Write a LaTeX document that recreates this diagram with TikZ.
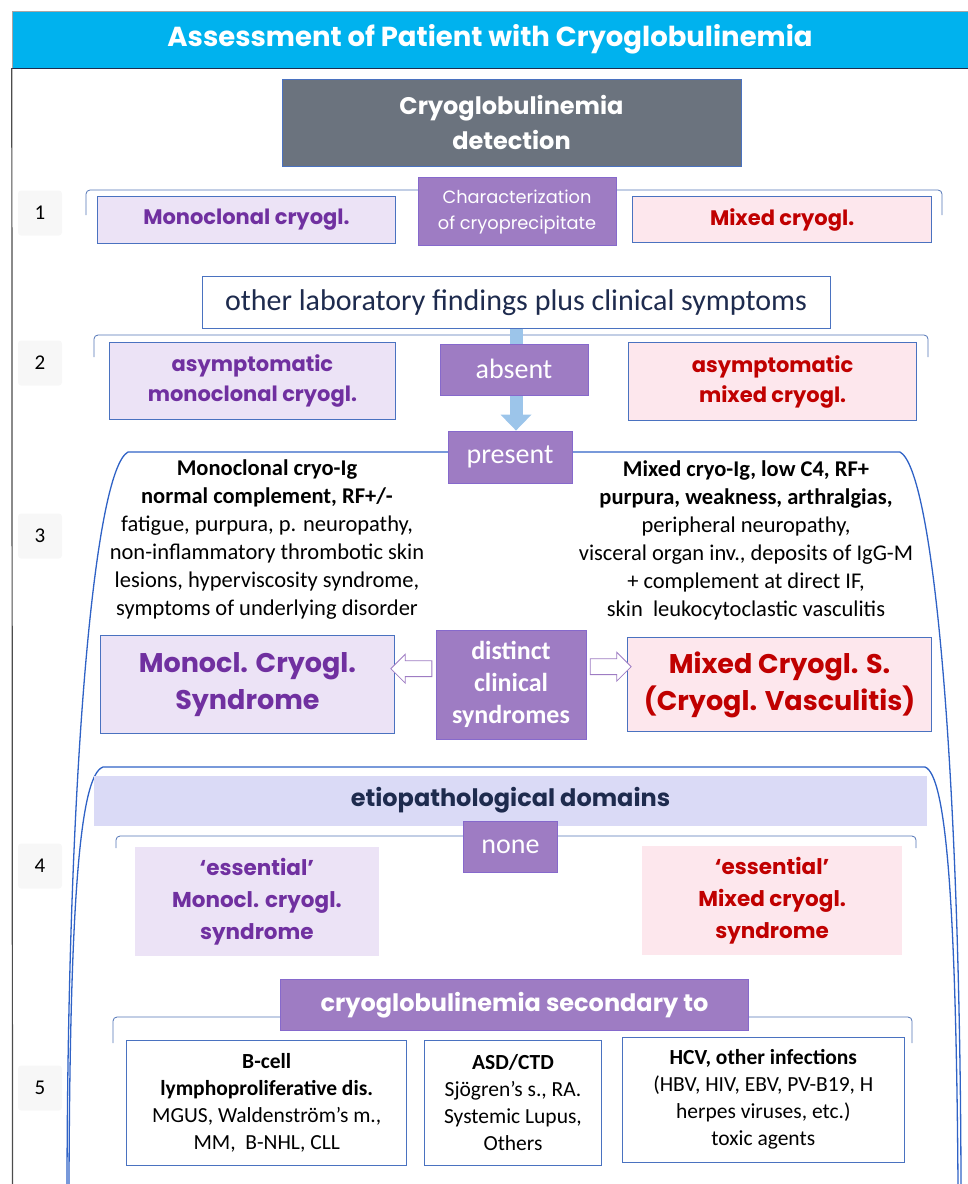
\documentclass[tikz,border=0pt]{standalone}
\usepackage{fontspec}
\setmainfont{Carlito}
\newfontfamily\geofont{Poppins}
\usepackage{tikz}
\usetikzlibrary{positioning, shapes.arrows, arrows.meta, calc}

\definecolor{cyanbar}{HTML}{00B2EE}
\definecolor{slatebox}{HTML}{6B737E}
\definecolor{lilac}{HTML}{9E7CC3}
\definecolor{lavender}{HTML}{ECE3F6}
\definecolor{blush}{HTML}{FDE7ED}
\definecolor{monotext}{HTML}{7030A0}
\definecolor{mixtext}{HTML}{C00000}
\definecolor{edgeblue}{HTML}{4A72C0}
\definecolor{frameblue}{HTML}{2F62C6}
\definecolor{skyarrow}{HTML}{9CC5EA}
\definecolor{navytext}{HTML}{1E2B4E}
\definecolor{periwinkle}{HTML}{DADAF6}

\newcommand{\setfs}[2]{\fontsize{#1}{#2}\selectfont}

\begin{document}
\begin{tikzpicture}[
    x=1pt, y=-1pt,
    box/.style={rectangle, draw=edgeblue, line width=0.8pt, align=center, inner sep=2pt},
    monobox/.style={box, fill=lavender, text=monotext, font=\geofont\bfseries\setfs{21}{30}},
    mixbox/.style={box, fill=blush, text=mixtext, font=\geofont\bfseries\setfs{21}{30}},
    purplebox/.style={rectangle, fill=lilac, draw=lilac!85!blue, text=white, align=center, inner sep=2pt},
    whitebox/.style={box, fill=white, text=black, font=\setfs{21.5}{27}},
    symptoms/.style={align=center, text=black, font=\setfs{22.5}{28}},
    numbox/.style={rectangle, rounded corners=3pt, fill=black!3, minimum width=44pt, minimum height=45pt, font=\setfs{21}{24}},
    bracket/.style={draw=edgeblue!85!gray, line width=0.8pt, rounded corners=4pt},
    frame/.style={draw=frameblue, line width=1.3pt},
    hollow/.style={single arrow, draw=lilac, fill=white, line width=0.8pt, inner sep=0pt, text height=15pt, minimum height=41pt, single arrow head extend=6.5pt}
]
\useasboundingbox (0,0) rectangle (968,1184);

% brackets and frames behind the boxes
\draw[bracket] (86,215) |- (942,190) -- (942,215);
\draw[bracket] (94,357) |- (928,335) -- (928,357);
\draw[bracket] (116,848) |- (916,836) -- (916,848);
\draw[bracket] (113,1043) |- (912,1017) -- (912,1043);
\draw[frame] (67,1184) .. controls (68,760) and (95,470) .. (128,452) -- (900,452) .. controls (933,470) and (960,760) .. (961,1184);
\draw[frame] (69,1184) .. controls (70,900) and (80,775) .. (103,767) -- (925,767) .. controls (946,775) and (956,900) .. (958,1184);

% title bar and outer border
\node[rectangle, fill=cyanbar, draw=gray!70, minimum width=956pt, minimum height=57pt, text=white, font=\geofont\bfseries\setfs{27.5}{30}] (title) at (490,39.5) {Assessment of Patient with Cryoglobulinemia};
\draw[navytext, line width=1.2pt] (title.south west) -- (title.south east);
\draw[black!70, line width=1.2pt] (title.south west) -- (12.5,1184);

\foreach \n/\y in {1/213,2/363,3/536,4/866,5/1088}
    \node[numbox] (num\n) at (40,\y) {\n};

% level 1
\node[box, fill=slatebox, text=white, minimum width=459pt, minimum height=87pt, font=\geofont\bfseries\setfs{24}{35}] (detect) at (511.5,122.5) {Cryoglobulinemia\\detection};
\node[purplebox, below=11pt of detect, xshift=5.5pt, minimum width=198pt, minimum height=68pt, font=\geofont\setfs{17.8}{26}] (charact) {Characterization\\of cryoprecipitate};
\node[monobox, left=22pt of charact, yshift=-8.5pt, minimum width=298pt, minimum height=47pt] (mono1) {Monoclonal cryogl.};
\node[mixbox, right=16pt of charact, yshift=-8pt, minimum width=299pt, minimum height=46pt] (mixed1) {Mixed cryogl.};

% level 2
\node[box, fill=white, text=navytext, below=30pt of charact, xshift=-1pt, minimum width=628pt, minimum height=52pt, font=\setfs{30}{34}] (lab) {other laboratory findings plus clinical symptoms};
\node[purplebox, below=102pt of lab, xshift=-6pt, minimum width=124pt, minimum height=52pt, font=\setfs{28}{32}] (present) {present};
\draw[skyarrow, line width=13pt, -{Triangle[length=16pt, width=30pt]}] (lab.south) -- (lab.south |- present.north);
\node[purplebox, below=15pt of lab, xshift=-2pt, minimum width=148pt, minimum height=51pt, font=\setfs{28}{32}] (absent) {absent};
\node[monobox, left=44pt of absent, yshift=-12pt, minimum width=286pt, minimum height=77pt] (mono2) {asymptomatic\\monoclonal cryogl.};
\node[mixbox, right=40pt of absent, yshift=-12.5pt, minimum width=288pt, minimum height=78pt] (mixed2) {asymptomatic\\mixed cryogl.};

% level 3
\node[symptoms] (monosym) at (267,540) {\textbf{Monoclonal cryo-Ig}\\\textbf{normal complement, RF+/-}\\fatigue, purpura, p. neuropathy,\\non-inflammatory thrombotic skin\\lesions, hyperviscosity syndrome,\\symptoms of underlying disorder};
\node[symptoms] (mixsym) at (746,540) {\textbf{Mixed cryo-Ig, low C4, RF+}\\\textbf{purpura, weakness, arthralgias,}\\peripheral neuropathy,\\visceral organ inv., deposits of IgG-M\\+ complement at direct IF,\\skin\ \ leukocytoclastic vasculitis};
\node[purplebox, below=147pt of present, xshift=1pt, minimum width=150pt, minimum height=109pt, font=\bfseries\setfs{26}{32}] (distinct) {distinct\\clinical\\syndromes};
\node[monobox, left=41pt of distinct, minimum width=294pt, minimum height=98pt, font=\geofont\bfseries\setfs{27}{37}] (monoS) {Monocl. Cryogl.\\Syndrome};
\node[mixbox, right=41pt of distinct, minimum width=304pt, minimum height=94pt, font=\geofont\bfseries\setfs{27}{37}] (mixedS) {Mixed Cryogl. S.\\(Cryogl. Vasculitis)};
\node[hollow, shape border rotate=180] (toMono) at ($(monoS.east)!0.5!(distinct.west)+(0,-16)$) {};
\node[hollow] (toMixed) at ($(distinct.east)!0.5!(mixedS.west)+(0,-18)$) {};

% level 4
\node[rectangle, fill=periwinkle, text=navytext, below=36pt of distinct, xshift=-0.5pt, minimum width=833pt, minimum height=50pt, font=\geofont\bfseries\setfs{24}{28}] (etio) {etiopathological domains};
\node[purplebox, below=-5pt of etio, minimum width=94pt, minimum height=51pt, font=\setfs{28}{32}] (none) {none};
\node[monobox, draw=none, left=84pt of none, yshift=-55pt, minimum width=244pt, minimum height=109pt, font=\geofont\bfseries\setfs{21.5}{32}] (ess1) {‘essential’\\Monocl. cryogl.\\syndrome};
\node[mixbox, draw=none, right=84pt of none, yshift=-54pt, minimum width=260pt, minimum height=109pt, font=\geofont\bfseries\setfs{21.5}{32}] (ess2) {‘essential’\\Mixed cryogl.\\syndrome};

% level 5
\node[purplebox, below=107pt of none, xshift=4pt, minimum width=468pt, minimum height=51pt, font=\geofont\bfseries\setfs{24}{28}] (second) {cryoglobulinemia secondary to};
\node[whitebox, below=9pt of second, xshift=-1.5pt, minimum width=177pt, minimum height=125pt] (asd) {\textbf{ASD/CTD}\\Sjögren’s s., RA.\\Systemic Lupus,\\Others};
\node[whitebox, left=17pt of asd, minimum width=280pt, minimum height=125pt] (bcell) {\textbf{B-cell}\\\textbf{lymphoproliferative dis.}\\MGUS, Waldenström’s m.,\\MM,\ \ B-NHL, CLL};
\node[whitebox, right=20pt of asd, yshift=3pt, minimum width=282pt, minimum height=125pt] (hcv) {\textbf{HCV, other infections}\\(HBV, HIV, EBV, PV-B19, H\\herpes viruses, etc.)\\toxic agents};
\end{tikzpicture}
\end{document}
